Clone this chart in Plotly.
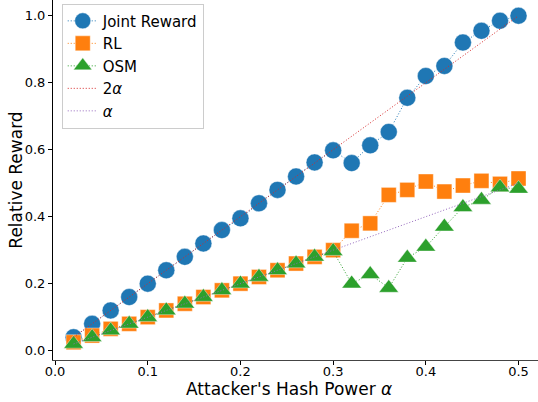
import plotly.graph_objects as go

alpha = [0.02, 0.04, 0.06, 0.08, 0.10, 0.12, 0.14, 0.16, 0.18, 0.20, 0.22, 0.24, 0.26,
         0.28, 0.30, 0.32, 0.34, 0.36, 0.38, 0.40, 0.42, 0.44, 0.46, 0.48, 0.50]

joint_reward = [0.04, 0.08, 0.12, 0.16, 0.20, 0.24, 0.28, 0.32, 0.36, 0.395, 0.44, 0.48, 0.52,
                0.562, 0.598, 0.56, 0.613, 0.653, 0.755, 0.82, 0.85, 0.92, 0.955, 0.985, 1.0]

rl_reward = [0.025, 0.045, 0.065, 0.08, 0.10, 0.12, 0.14, 0.16, 0.18, 0.20, 0.22, 0.24, 0.26,
             0.28, 0.30, 0.358, 0.38, 0.465, 0.48, 0.505, 0.475, 0.493, 0.507, 0.498, 0.514]

osm_reward = [0.02, 0.04, 0.06, 0.08, 0.10, 0.12, 0.14, 0.16, 0.18, 0.20, 0.22, 0.24, 0.26,
              0.28, 0.297, 0.20, 0.228, 0.187, 0.277, 0.31, 0.37, 0.428, 0.45, 0.487, 0.483]

two_alpha = [2 * a for a in alpha]

x_ticks = [0.0, 0.1, 0.2, 0.3, 0.4, 0.5]
y_ticks = [0.0, 0.2, 0.4, 0.6, 0.8, 1.0]

fig = go.Figure()

# 점선 + 마커 시리즈
series = [
    ('Joint Reward', joint_reward, '#1f77b4', 'circle', 17),
    ('RL', rl_reward, '#ff7f0e', 'square', 15),
    ('OSM', osm_reward, '#2ca02c', 'triangle-up', 17),
]
for name, values, color, symbol, size in series:
    fig.add_trace(go.Scatter(
        x=alpha, y=values, mode='lines+markers', name=name,
        line=dict(color=color, width=1, dash='1px,2px'),
        marker=dict(symbol=symbol, size=size, color=color,
                    line=dict(color='rgba(255,255,255,0.4)', width=1))
    ))

# 기준선
fig.add_trace(go.Scatter(
    x=alpha, y=two_alpha, mode='lines', name='2<i>α</i>',
    line=dict(color='#d62728', width=1, dash='1px,2px')
))
fig.add_trace(go.Scatter(
    x=alpha, y=alpha, mode='lines', name='<i>α</i>',
    line=dict(color='#9467bd', width=1, dash='1px,2px')
))

fig.update_layout(
    width=538, height=402,
    margin=dict(l=53, r=0, t=0, b=42),
    paper_bgcolor='white', plot_bgcolor='white',
    font=dict(family='DejaVu Sans', color='black'),
    legend=dict(
        x=0.018, y=0.99, xanchor='left', yanchor='top',
        bgcolor='rgba(255,255,255,0.8)', bordercolor='#cccccc', borderwidth=1,
        font=dict(size=15), tracegroupgap=0, itemwidth=30
    ),
    showlegend=True,
    annotations=[
        dict(text="Attacker's Hash Power <i>α</i>", xref='paper', yref='paper',
             x=0.486, y=-0.081, xanchor='center', yanchor='middle',
             showarrow=False, font=dict(size=17)),
        dict(text='Relative Reward', xref='paper', yref='paper', textangle=-90,
             x=-0.077, y=0.5, xanchor='center', yanchor='middle',
             showarrow=False, font=dict(size=17)),
    ]
)
fig.update_xaxes(
    range=[-0.0022, 0.521], tickvals=x_ticks,
    ticktext=[f'{v:.1f}' for v in x_ticks],
    showline=True, mirror=True, linecolor='#444444', linewidth=1,
    showgrid=False, zeroline=False, automargin=False,
    ticks='outside', ticklen=4, tickcolor='black', tickfont=dict(size=13),
    ticklabelstandoff=-5
)
fig.update_yaxes(
    range=[-0.028, 1.047], tickvals=y_ticks,
    ticktext=[f'{v:.1f}' for v in y_ticks],
    showline=True, linecolor='black', linewidth=1,
    showgrid=False, zeroline=False, automargin=False,
    ticks='outside', ticklen=4, tickcolor='black', tickfont=dict(size=13)
)

# 페이지 기본 여백 제거
fig.write_html('out.html', config={'displayModeBar': False},
               post_script="document.body.style.margin='0';")
